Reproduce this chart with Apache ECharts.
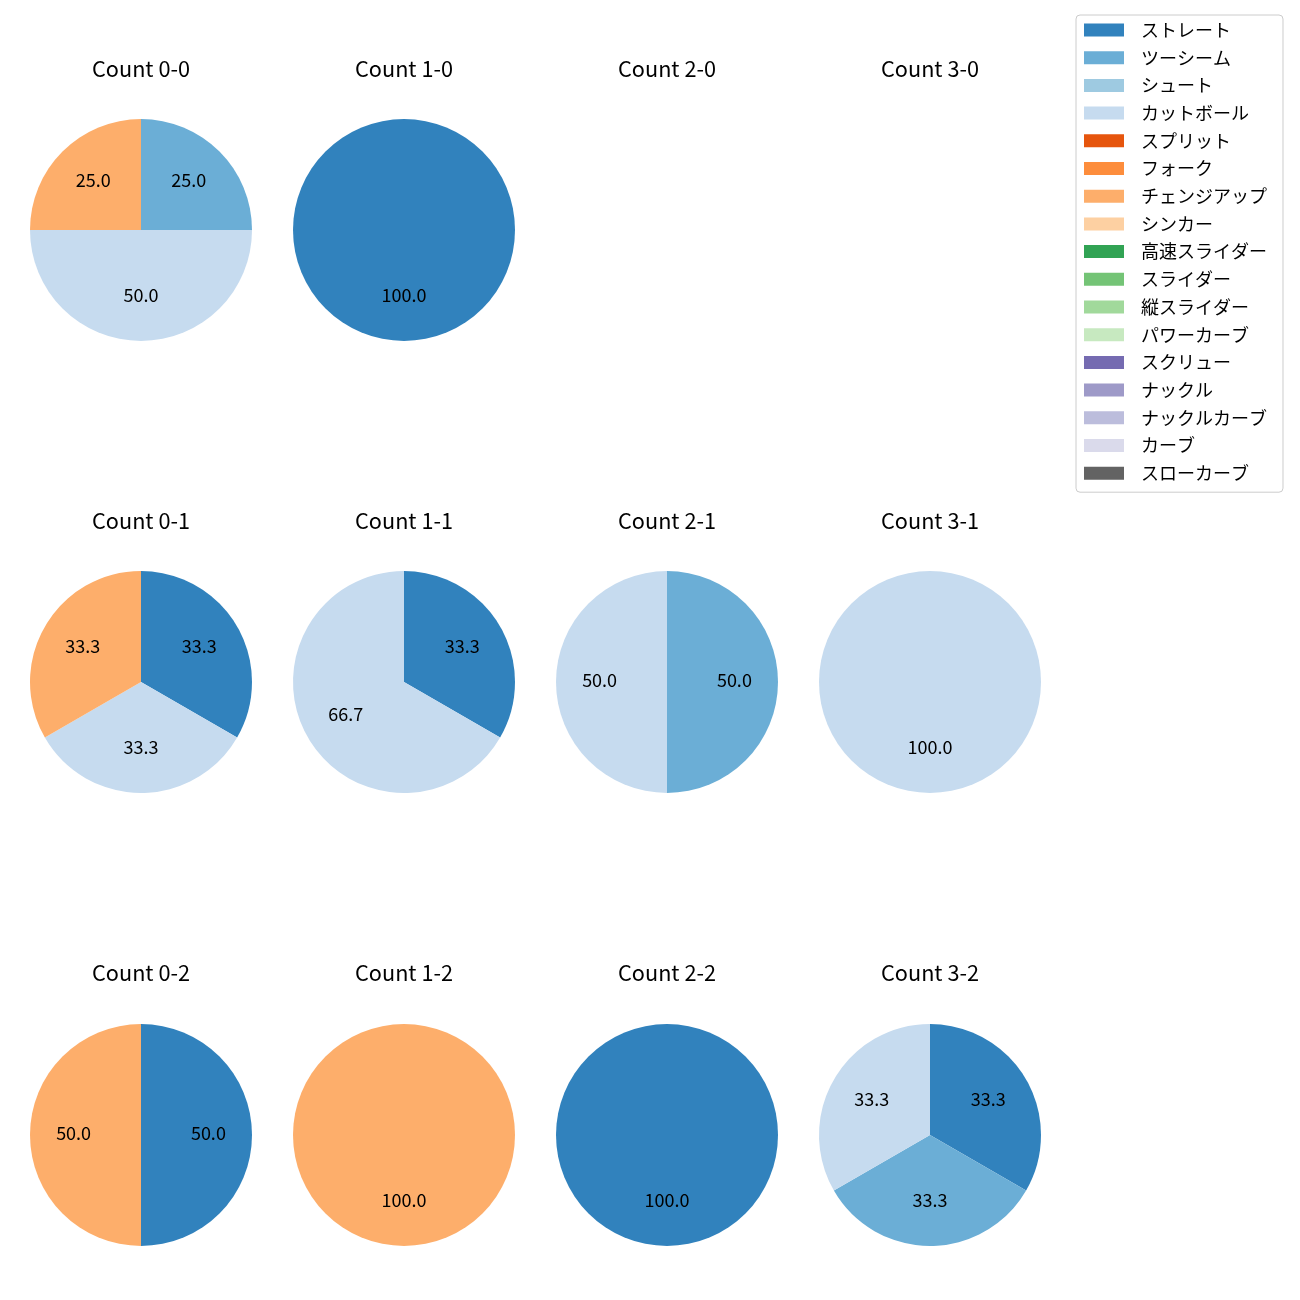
<!DOCTYPE html>
<html>
<head>
<meta charset="utf-8">
<script src="https://cdn.jsdelivr.net/npm/echarts@6/dist/echarts.min.js"></script>
<style>html,body{margin:0;padding:0;background:#fff;}#main{width:1300px;height:1300px;}</style>
</head>
<body>
<div id="main"></div>
<script>
const pitchTypes = ['ストレート','ツーシーム','シュート','カットボール','スプリット','フォーク','チェンジアップ','シンカー','高速スライダー','スライダー','縦スライダー','パワーカーブ','スクリュー','ナックル','ナックルカーブ','カーブ','スローカーブ'];
const pitchColors = ['#3182bd','#6baed6','#9ecae1','#c6dbef','#e6550d','#fd8d3c','#fdae6b','#fdd0a2','#31a354','#74c476','#a1d99b','#c7e9c0','#756bb1','#9e9ac8','#bcbddc','#dadaeb','#636363'];
const countTitles = ['Count 0-0','Count 1-0','Count 2-0','Count 3-0','Count 0-1','Count 1-1','Count 2-1','Count 3-1','Count 0-2','Count 1-2','Count 2-2','Count 3-2'];
// pitch counts per ball-strike count, in pitchTypes order
const count00 = [0,1,0,2,0,0,1,0,0,0,0,0,0,0,0,0,0];
const count10 = [1,0,0,0,0,0,0,0,0,0,0,0,0,0,0,0,0];
const count20 = [0,0,0,0,0,0,0,0,0,0,0,0,0,0,0,0,0];
const count30 = [0,0,0,0,0,0,0,0,0,0,0,0,0,0,0,0,0];
const count01 = [1,0,0,1,0,0,1,0,0,0,0,0,0,0,0,0,0];
const count11 = [1,0,0,2,0,0,0,0,0,0,0,0,0,0,0,0,0];
const count21 = [0,1,0,1,0,0,0,0,0,0,0,0,0,0,0,0,0];
const count31 = [0,0,0,1,0,0,0,0,0,0,0,0,0,0,0,0,0];
const count02 = [1,0,0,0,0,0,1,0,0,0,0,0,0,0,0,0,0];
const count12 = [0,0,0,0,0,0,1,0,0,0,0,0,0,0,0,0,0];
const count22 = [1,0,0,0,0,0,0,0,0,0,0,0,0,0,0,0,0];
const count32 = [1,1,0,1,0,0,0,0,0,0,0,0,0,0,0,0,0];
const countValues = [count00,count10,count20,count30,count01,count11,count21,count31,count02,count12,count22,count32];

const FONT = '"Noto Sans CJK JP", "Noto Sans", sans-serif';
const colX = [141, 404, 667, 930];
const rowY = [230, 682, 1135];
const titleY = [69, 521, 973];
const R = 111;

const titles = [];
const mainSeries = [];
const labelSeries = [];
countTitles.forEach((t, i) => {
  const c = i % 4, r = Math.floor(i / 4);
  titles.push({
    text: t, left: colX[c], top: titleY[r] - 14, textAlign: 'center', padding: 0,
    textStyle: {fontFamily: FONT, fontSize: 21.7, fontWeight: 'normal', color: '#000', lineHeight: 28}
  });
  const vals = countValues[i];
  const sum = vals.reduce((a, b) => a + b, 0);
  if (sum === 0) return;
  const data = pitchTypes.map((n, k) => ({name: n, value: vals[k], itemStyle: {color: pitchColors[k]}}));
  mainSeries.push({
    type: 'pie', center: [colX[c], rowY[r]], radius: [0, R], startAngle: 90, clockwise: true,
    stillShowZeroSum: false, silent: true, animation: false,
    itemStyle: {borderWidth: 0},
    label: {show: false}, labelLine: {show: false}, emphasis: {disabled: true},
    data: data
  });
  labelSeries.push({
    type: 'pie', center: [colX[c], rowY[r]], radius: [R * 0.16, R], startAngle: 90, clockwise: true,
    stillShowZeroSum: false, silent: true, animation: false,
    itemStyle: {color: 'rgba(0,0,0,0)', borderWidth: 0},
    label: {
      show: true, position: 'inside', color: '#000', fontFamily: FONT, fontSize: 18,
      offset: [0, -2],
      formatter: p => p.value > 0 ? (p.value / sum * 100).toFixed(1) : ''
    },
    labelLine: {show: false}, emphasis: {disabled: true},
    data: pitchTypes.map((n, k) => ({name: n, value: vals[k]}))
  });
});

const chart = echarts.init(document.getElementById('main'), null, {renderer: 'canvas'});
chart.setOption({
  backgroundColor: '#fff',
  animation: false,
  title: titles,
  legend: {
    orient: 'vertical', left: 1076, top: 15,
    data: pitchTypes, icon: 'rect', itemWidth: 40, itemHeight: 13, itemGap: 7.7,
    selectedMode: false,
    padding: [5, 16, 9, 8],
    borderColor: '#cccccc', borderWidth: 1, borderRadius: 4, backgroundColor: '#fff',
    textStyle: {fontFamily: FONT, fontSize: 18, color: '#000', lineHeight: 20, padding: [0, 0, 0, 12]}
  },
  series: mainSeries.concat(labelSeries)
});
</script>
</body>
</html>
